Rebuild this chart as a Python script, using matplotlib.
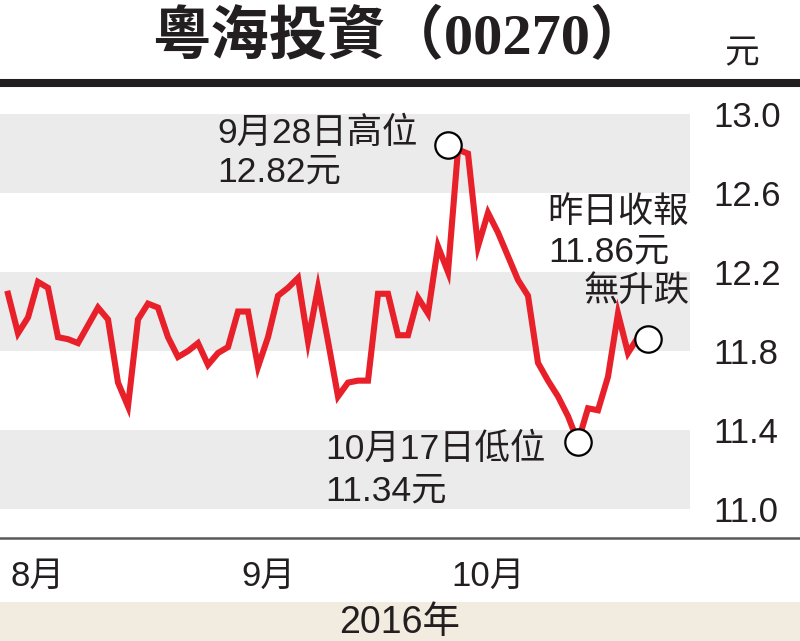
import numpy as np
import matplotlib
matplotlib.use('Agg')
import matplotlib.pyplot as plt
from matplotlib.lines import Line2D
from matplotlib.patches import Rectangle
from matplotlib import transforms

# 粵海投資 (00270) daily close, Aug - Oct 2016
prices = [12.09, 11.89, 11.97, 12.15, 12.12, 11.87, 11.86, 11.84, 11.93, 12.02,
          11.96, 11.64, 11.52, 11.96, 12.04, 12.02, 11.87, 11.77, 11.80, 11.84,
          11.73, 11.79, 11.82, 12.00, 12.00, 11.72, 11.87, 12.08, 12.12, 12.17,
          11.85, 12.12, 11.85, 11.57, 11.64, 11.65, 11.65, 12.09, 12.09, 11.88,
          11.88, 12.07, 11.99, 12.33, 12.20, 12.82, 12.80, 12.33, 12.50, 12.40,
          12.28, 12.16, 12.08, 11.74, 11.65, 11.57, 11.47, 11.34, 11.51, 11.50,
          11.67, 11.99, 11.79, 11.87, 11.86]
month_labels = ['8月', '9月', '10月']
month_start = [0, 23, 44]
y_ticks = [11.0, 11.4, 11.8, 12.2, 12.6, 13.0]

title = '粵海投資（00270）'
unit = '元'
year_label = '2016年'
high_text = ['9月28日高位', '12.82元']
low_text = ['10月17日低位', '11.34元']
last_text = ['昨日收報', '11.86元', '無升跌']

RED = '#e8202a'
BAND = '#ebebec'
INK = '#231f20'
SANS = ['Liberation Sans', 'Noto Sans CJK TC']
plt.rcParams['font.family'] = SANS

fig = plt.figure(figsize=(8, 6.41), dpi=100)
ax = fig.add_axes([0, 0.1622, 0.8625, 0.7005])
x = np.arange(len(prices))
ax.set_xlim(-0.8, 68.2)
ax.set_ylim(10.858, 13.132)

# alternating grey bands
for lo, hi in zip(y_ticks[0::2], y_ticks[1::2]):
    ax.axhspan(lo, hi, color=BAND, lw=0, zorder=0)

ax.plot(x, prices, color=RED, lw=4.4, solid_joinstyle='miter', zorder=2)

i_hi = int(np.argmax(prices))
i_lo = int(np.argmin(prices))
i_last = len(prices) - 1

circle = dict(marker='o', ms=19, mfc='white', mec='black', mew=1.6, zorder=3)
hi_shift = transforms.offset_copy(ax.transData, fig=fig, x=-10, y=5, units='dots')
ax.plot(i_hi, prices[i_hi], transform=hi_shift, **circle)
ax.plot(i_lo, prices[i_lo], **circle)
ax.plot(i_last, prices[i_last], **circle)

txt = dict(textcoords='offset pixels', va='center', size=25.5, color=INK, zorder=4)
ax.annotate(high_text[0], (i_hi, prices[i_hi]), (-241, 17), ha='left', **txt)
ax.annotate(high_text[1], (i_hi, prices[i_hi]), (-241, -22), ha='left', **txt)
ax.annotate(low_text[0], (i_lo, prices[i_lo]), (-253, -7), ha='left', **txt)
ax.annotate(low_text[1], (i_lo, prices[i_lo]), (-253, -49), ha='left', **txt)
ax.annotate(last_text[0], (i_last, prices[i_last]), (-101, 127), ha='left', **txt)
ax.annotate(last_text[1], (i_last, prices[i_last]), (-100, 87), ha='left', **txt)
ax.annotate(last_text[2], (i_last, prices[i_last]), (42, 48), ha='right', **txt)

for s in ax.spines.values():
    s.set_visible(False)
ax.set_xticks([])
ax.yaxis.tick_right()
ax.set_yticks(y_ticks)
ax.set_yticklabels([f'{v:.1f}' for v in y_ticks])
ax.tick_params(axis='y', length=0, pad=16.5, labelsize=25, labelcolor=INK)

# month labels under the axis
blend = transforms.blended_transform_factory(ax.transData, ax.transAxes)
for i, lab in zip(month_start, month_labels):
    ax.text(i + 0.3, -0.0869, lab, transform=blend, ha='left', va='center',
            size=25, color=INK, clip_on=False)

# frame lines, year strip, title
fig.add_artist(Line2D([0, 1], [0.8705, 0.8705], transform=fig.transFigure,
                      color=INK, lw=5.8))
fig.add_artist(Line2D([0, 1], [0.1607, 0.1607], transform=fig.transFigure,
                      color='#58595b', lw=1.8))
fig.add_artist(Rectangle((0, 0), 1, 0.0608, transform=fig.transFigure,
                         color='#f1ebe0', lw=0, zorder=0))
fig.text(0.5, 0.0281, year_label, ha='center', va='center', size=27, color=INK)
fig.text(0.5, 0.942, title, ha='center', va='center', size=42, weight='bold',
         color=INK, family=['Liberation Serif', 'Noto Sans CJK TC'])
fig.text(0.9275, 0.9158, unit, ha='center', va='center', size=25, color=INK)

fig.savefig('out.png', dpi=100)
